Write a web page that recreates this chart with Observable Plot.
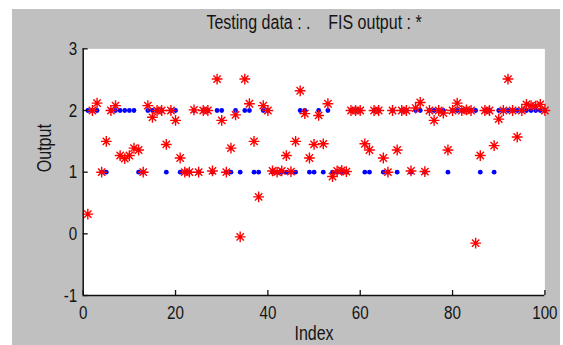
<!DOCTYPE html>
<html><head><meta charset="utf-8">
<script src="https://cdn.jsdelivr.net/npm/d3@7"></script>
<script src="https://cdn.jsdelivr.net/npm/@observablehq/plot@0.6"></script>
<style>
html,body{margin:0;padding:0;background:#fff;}
#wrap{position:relative;width:563px;height:345px;overflow:hidden;}
#panel{position:absolute;left:12px;top:9px;width:548px;height:336px;background:#c0c0c0;}
#chart{position:absolute;left:0;top:0;}
</style></head><body>
<div id="wrap"><div id="panel"></div><div id="chart"></div></div>
<script>
// Sample index 1..100
const sampleIndex = Array.from({length: 100}, (_, i) => i + 1);
// Testing data (blue dots)
const testingData = [
  2,2,2,1,1,2,2,2,2,2, 2,1,1,2,2,2,2,1,2,2,
  1,1,1,2,1,2,2,1,2,2, 1,1,2,1,2,2,1,1,2,2,
  1,1,1,1,1,1,2,2,1,1, 2,1,2,1,1,1,1,2,2,2,
  1,1,2,2,1,1,2,1,2,2, 1,2,2,1,2,2,2,2,1,2,
  2,2,2,2,2,1,2,2,1,2, 2,2,2,2,2,2,2,2,2,2
];
// FIS output (red asterisks)
const fisOutput = [
  0.32,2.00,2.12,1.00,1.50,2.00,2.08,1.27,1.22,1.27,
  1.39,1.36,1.00,2.08,1.89,2.00,2.00,1.45,2.00,1.84,
  1.23,1.00,1.00,2.01,1.00,2.00,2.00,1.02,2.51,1.84,
  1.00,1.39,1.93,-0.05,2.51,2.11,1.50,0.60,2.08,2.00,
  1.02,1.00,1.02,1.27,1.01,1.50,2.32,1.95,1.23,1.45,
  1.92,1.46,2.11,0.93,1.02,1.03,1.01,2.00,2.00,2.00,
  1.46,1.36,2.00,2.00,1.23,1.00,2.00,1.36,2.00,2.00,
  1.02,2.04,2.13,1.01,2.00,1.84,2.00,1.96,1.36,2.00,
  2.12,2.00,2.01,2.00,-0.15,1.27,2.00,2.00,1.43,1.86,
  2.00,2.51,2.00,1.57,2.00,2.10,2.08,2.07,2.10,2.00
];
const xTicks = [0, 20, 40, 60, 80, 100];
const yTicks = [-1, 0, 1, 2, 3];
const titleText = "Testing data : .\u00a0\u00a0\u00a0\u00a0FIS output : *";
const xLabel = "Index";
const yLabel = "Output";

const rows = sampleIndex.map((k, i) => ({k, t: testingData[i], f: fisOutput[i]}));

const W = 563, H = 345, mL = 82.7, mR = 18.6, mT = 48.35, mB = 50;
const plotW = W - mL - mR, plotH = H - mT - mB;
const FONT = "'Liberation Sans', Arial, sans-serif";
const TEXT = "#141414";

const asterisk = {
  draw(ctx, size) {
    const r = Math.sqrt(size / Math.PI);
    const d = r * 0.68;
    ctx.moveTo(-r, 0); ctx.lineTo(r, 0);
    ctx.moveTo(0, -r); ctx.lineTo(0, r);
    ctx.moveTo(-d, -d); ctx.lineTo(d, d);
    ctx.moveTo(-d, d); ctx.lineTo(d, -d);
  }
};

const chart = Plot.plot({
  width: W, height: H,
  marginLeft: mL, marginRight: mR, marginTop: mT, marginBottom: mB,
  style: {fontFamily: FONT, fontSize: "19px", color: TEXT, background: "transparent"},
  x: {domain: [0, 100], axis: null},
  y: {domain: [-1, 3], axis: null},
  marks: [
    Plot.frame({fill: "white", stroke: "none"}),
    Plot.dot(rows, {x: "k", y: "t", r: 2.4, fill: "#0000ff", stroke: "none"}),
    Plot.dot(rows, {x: "k", y: "f", r: 5.4, symbol: asterisk, fill: "none", stroke: "#ff0000", strokeWidth: 1.4}),
    Plot.ruleX([0], {stroke: "#111", strokeWidth: 1.5}),
    Plot.ruleY([-1], {stroke: "#111", strokeWidth: 1.5}),
    Plot.tickX(xTicks, {x: d => d, insetTop: plotH - 5, stroke: "#111", strokeWidth: 1.3}),
    Plot.tickY(yTicks, {y: d => d, insetRight: plotW - 5, stroke: "#111", strokeWidth: 1.3}),
    Plot.axisX({ticks: xTicks, tickSize: 0, tickPadding: 10, label: null, fontSize: 19, tickFormat: d => String(d)}),
    Plot.axisY({ticks: yTicks, tickSize: 0, tickPadding: 6, label: null, fontSize: 19, tickFormat: d => String(d)}),
    Plot.text([titleText], {text: d => d, frameAnchor: "top", lineAnchor: "middle", dy: -26, fontSize: 20, fill: TEXT}),
    Plot.text([xLabel], {text: d => d, frameAnchor: "bottom", lineAnchor: "middle", dy: 38, fontSize: 20, fill: TEXT}),
    Plot.text([yLabel], {text: d => d, frameAnchor: "left", lineAnchor: "middle", dx: -39, rotate: -90, fontSize: 20, fill: TEXT})
  ]
});
// condense glyphs horizontally to match the narrow lettering of the reference
chart.querySelectorAll("text").forEach(el => {
  const tr = el.getAttribute("transform");
  if (tr) { el.setAttribute("transform", tr + " scale(0.8,1)"); return; }
  const x = +(el.getAttribute("x") || 0), y = +(el.getAttribute("y") || 0);
  el.setAttribute("transform", `translate(${x},${y}) scale(0.8,1) translate(${-x},${-y})`);
});
document.getElementById("chart").appendChild(chart);
</script>
</body></html>
